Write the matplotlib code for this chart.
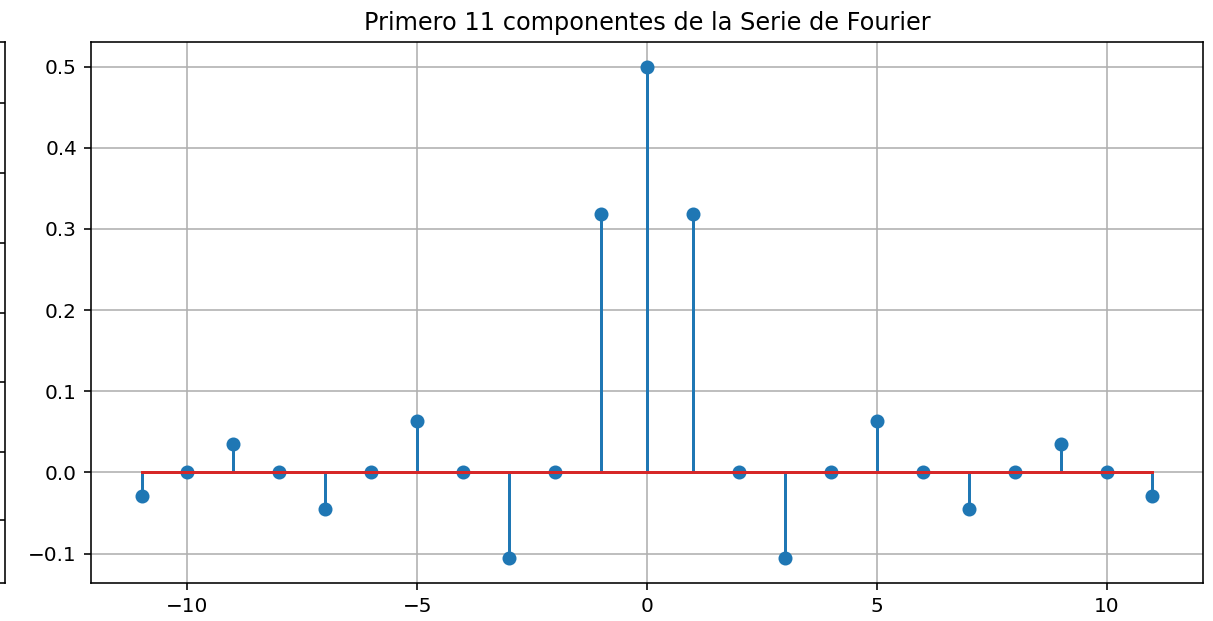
import numpy as np
import matplotlib
matplotlib.use('Agg')
import matplotlib.pyplot as plt

# coeficientes de la serie de Fourier, k = -11..11
k = np.arange(-11, 12)
c_pos = [0.5, 0.318, 0.0, -0.106, 0.0, 0.0637, 0.0, -0.0455, 0.0, 0.0354, 0.0, -0.0289]
ck = c_pos[:0:-1] + c_pos
titulo = 'Primero 11 componentes de la Serie de Fourier'

# marcas del eje de la grafica anterior (borde izquierdo)
prev_ticks = [0.1165, 0.242, 0.371, 0.499, 0.628, 0.758, 0.887]

W, H, dpi = 1213, 621, 144
fig = plt.figure(figsize=(W / dpi, H / dpi), dpi=dpi)

# resto de la grafica anterior
ax0 = fig.add_axes([-0.2, 38 / H, 0.2 + 5 / W, 541 / H])
ax0.set_ylim(0, 1)
ax0.set_yticks(prev_ticks)
ax0.yaxis.tick_right()
ax0.tick_params(axis='y', direction='in', labelright=False, length=3.5)
ax0.set_xticks([])
ax0.spines['left'].set_visible(False)

ax = fig.add_axes([91 / W, 38 / H, (1203 - 91) / W, 541 / H])
ax.stem(k, ck, linefmt='C0-', markerfmt='C0o', basefmt='C3-')
ax.set_title(titulo, fontsize=12)
ax.grid(True)
ax.set_xticks([-10, -5, 0, 5, 10])
ax.set_yticks([-0.1, 0.0, 0.1, 0.2, 0.3, 0.4, 0.5])

fig.savefig('out.png', dpi=dpi)
